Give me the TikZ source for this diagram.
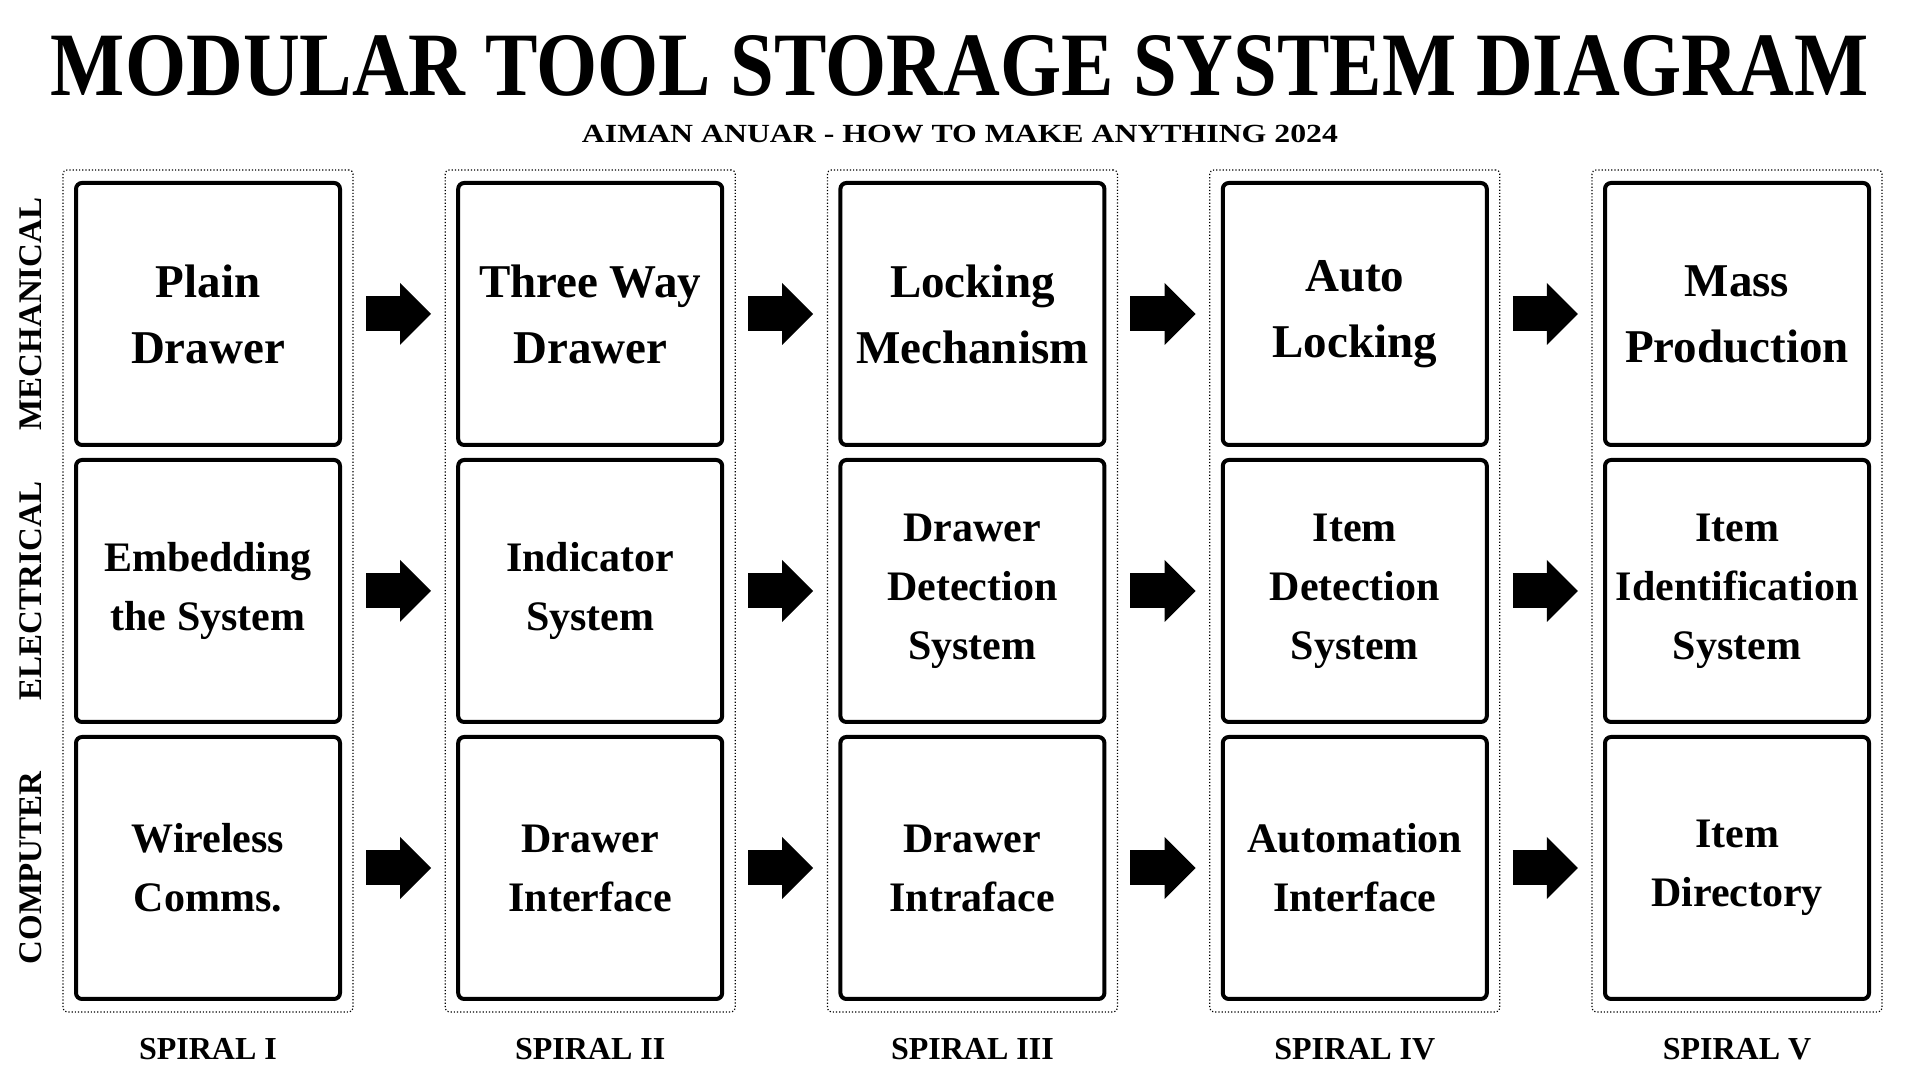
\documentclass[tikz,border=0pt]{standalone}
\usepackage{fontspec}
\setmainfont{Liberation Serif}
\usetikzlibrary{arrows.meta,fit}

\begin{document}
\begin{tikzpicture}[x=1pt,y=1pt,
    box/.style={draw, line width=2pt, rounded corners=3pt, minimum width=132pt, minimum height=131pt,
        outer sep=0pt, inner sep=2pt, align=center, font=\bfseries\fontsize{21}{29.5}\selectfont},
    topbox/.style={box, font=\bfseries\fontsize{23.5}{33}\selectfont},
    colframe/.style={draw, densely dotted, line width=0.6pt, rounded corners=2pt, inner sep=6.5pt},
    fatarrow/.style={line width=17.5pt, -{Triangle[length=15.5pt,width=31pt,line width=0pt]},
        shorten <=13pt, shorten >=13.6pt},
    rowlabel/.style={rotate=90, font=\bfseries\fontsize{16.5}{18}\selectfont},
    spiral/.style={font=\bfseries\fontsize{16}{18}\selectfont}]

    % Fix the page to the size of the reference
    \useasboundingbox (0,0) rectangle (960,540);

    % Title and subtitle
    \node[font=\bfseries] (title) at (480,507) {\resizebox{909pt}{30pt}{MODULAR TOOL STORAGE SYSTEM DIAGRAM}};
    \node[font=\bfseries] (subtitle) at (480,473) {\resizebox{378pt}{8.7pt}{AIMAN ANUAR - HOW TO MAKE ANYTHING 2024}};

    % Spiral I
    \node[topbox] (m1) at (104,383) {Plain\\Drawer};
    \node[box] (e1) at (104,244.5) {Embedding\\the System};
    \node[box] (c1) at (104,106) {Wireless\\Comms.};

    % Spiral II
    \node[topbox] (m2) at (295.1,383) {Three Way\\Drawer};
    \node[box] (e2) at (295.1,244.5) {Indicator\\System};
    \node[box] (c2) at (295.1,106) {Drawer\\Interface};

    % Spiral III
    \node[topbox] (m3) at (486.2,383) {Locking\\Mechanism};
    \node[box] (e3) at (486.2,244.5) {Drawer\\Detection\\System};
    \node[box] (c3) at (486.2,106) {Drawer\\Intraface};

    % Spiral IV
    \node[topbox] (m4) at (677.4,383) {Auto\\Locking};
    \node[box] (e4) at (677.4,244.5) {Item\\Detection\\System};
    \node[box] (c4) at (677.4,106) {Automation\\Interface};

    % Spiral V
    \node[topbox] (m5) at (868.5,383) {Mass\\Production};
    \node[box] (e5) at (868.5,244.5) {Item\\Identification\\System};
    \node[box] (c5) at (868.5,106) {Item\\Directory};

    % Dotted frames round each spiral
    \node[colframe, fit=(m1)(c1)] (f1) {};
    \node[colframe, fit=(m2)(c2)] (f2) {};
    \node[colframe, fit=(m3)(c3)] (f3) {};
    \node[colframe, fit=(m4)(c4)] (f4) {};
    \node[colframe, fit=(m5)(c5)] (f5) {};

    % Arrows from one spiral to the next
    \draw[fatarrow] (m1) -- (m2);
    \draw[fatarrow] (e1) -- (e2);
    \draw[fatarrow] (c1) -- (c2);
    \draw[fatarrow] (m2) -- (m3);
    \draw[fatarrow] (e2) -- (e3);
    \draw[fatarrow] (c2) -- (c3);
    \draw[fatarrow] (m3) -- (m4);
    \draw[fatarrow] (e3) -- (e4);
    \draw[fatarrow] (c3) -- (c4);
    \draw[fatarrow] (m4) -- (m5);
    \draw[fatarrow] (e4) -- (e5);
    \draw[fatarrow] (c4) -- (c5);

    % Row labels on the left
    \node[rowlabel] (mech) at (15.5,383) {MECHANICAL};
    \node[rowlabel] (elec) at (15.5,244.5) {ELECTRICAL};
    \node[rowlabel] (comp) at (15.5,106) {COMPUTER};

    % Spiral labels below
    \node[spiral] (s1) at (104,15.5) {SPIRAL I};
    \node[spiral] (s2) at (295.1,15.5) {SPIRAL II};
    \node[spiral] (s3) at (486.2,15.5) {SPIRAL III};
    \node[spiral] (s4) at (677.4,15.5) {SPIRAL IV};
    \node[spiral] (s5) at (868.5,15.5) {SPIRAL V};

\end{tikzpicture}
\end{document}
